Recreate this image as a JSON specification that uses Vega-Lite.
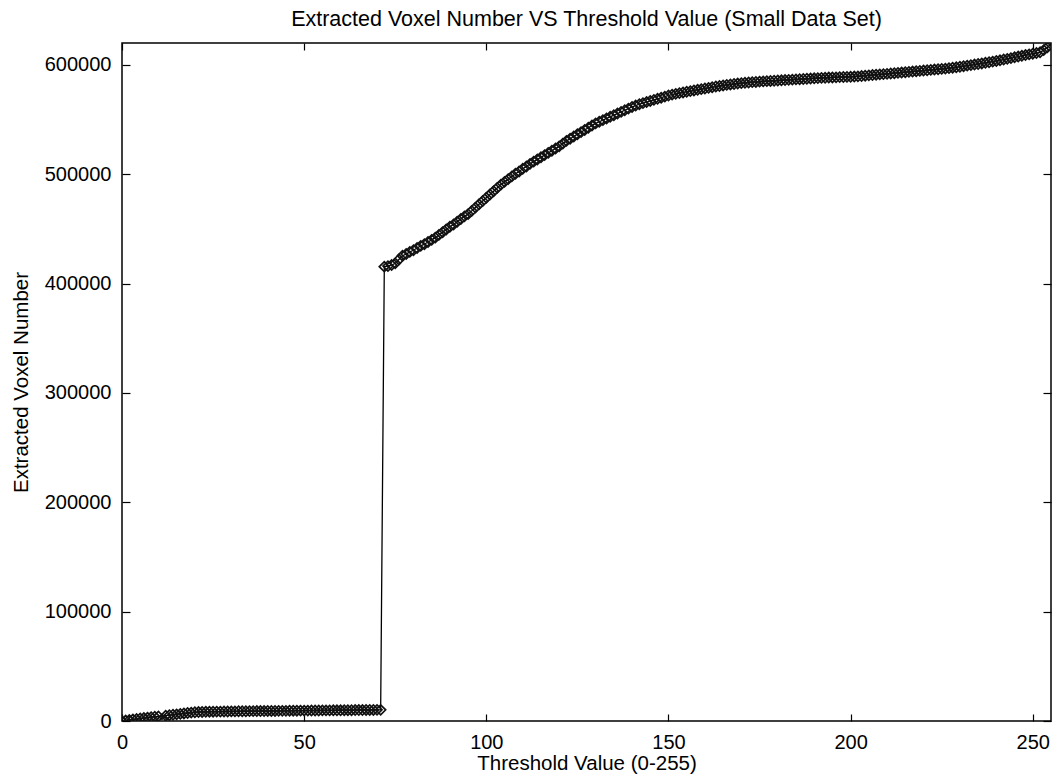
{
  "$schema": "https://vega.github.io/schema/vega-lite/v6.json",
  "width": 929,
  "height": 678,
  "autosize": "none",
  "padding": {"left": 122, "top": 43, "right": 5, "bottom": 61},
  "background": "white",
  "config": {
    "font": "Liberation Sans",
    "view": {"stroke": "black", "strokeWidth": 1.5},
    "axis": {
      "domain": false,
      "grid": false,
      "ticks": true,
      "tickColor": "black",
      "tickWidth": 1.2,
      "labelColor": "black",
      "labelFont": "Liberation Sans",
      "labelFontSize": 20,
      "labelFlush": false,
      "titleFont": "Liberation Sans",
      "titleFontSize": 20.5,
      "titleFontWeight": "normal",
      "titleColor": "black"
    }
  },
  "title": {
    "text": "Extracted Voxel Number VS Threshold Value (Small Data Set)",
    "font": "Liberation Sans",
    "fontSize": 21.5,
    "fontWeight": "normal",
    "color": "black",
    "anchor": "middle",
    "offset": 12
  },
  "data": {
    "values": [
      {"t": 0, "n": 0}, {"t": 1, "n": 400}, {"t": 2, "n": 900}, {"t": 3, "n": 1400}, {"t": 4, "n": 1800},
      {"t": 5, "n": 2300}, {"t": 6, "n": 2700}, {"t": 7, "n": 3100}, {"t": 8, "n": 3500}, {"t": 9, "n": 3900},
      {"t": 10, "n": 4200}, {"t": 11, "n": 1500}, {"t": 12, "n": 4900}, {"t": 13, "n": 5300}, {"t": 14, "n": 5700},
      {"t": 15, "n": 6100}, {"t": 16, "n": 6500}, {"t": 17, "n": 6900}, {"t": 18, "n": 7300}, {"t": 19, "n": 7700},
      {"t": 20, "n": 8000}, {"t": 21, "n": 8200}, {"t": 22, "n": 8300}, {"t": 23, "n": 8400}, {"t": 24, "n": 8500},
      {"t": 25, "n": 8500}, {"t": 26, "n": 8600}, {"t": 27, "n": 8600}, {"t": 28, "n": 8700}, {"t": 29, "n": 8700},
      {"t": 30, "n": 8800}, {"t": 31, "n": 8800}, {"t": 32, "n": 8900}, {"t": 33, "n": 8900}, {"t": 34, "n": 8900},
      {"t": 35, "n": 9000}, {"t": 36, "n": 9000}, {"t": 37, "n": 9100}, {"t": 38, "n": 9100}, {"t": 39, "n": 9100},
      {"t": 40, "n": 9200}, {"t": 41, "n": 9200}, {"t": 42, "n": 9200}, {"t": 43, "n": 9300}, {"t": 44, "n": 9300},
      {"t": 45, "n": 9300}, {"t": 46, "n": 9400}, {"t": 47, "n": 9400}, {"t": 48, "n": 9400}, {"t": 49, "n": 9500},
      {"t": 50, "n": 9500}, {"t": 51, "n": 9500}, {"t": 52, "n": 9600}, {"t": 53, "n": 9600}, {"t": 54, "n": 9600},
      {"t": 55, "n": 9700}, {"t": 56, "n": 9700}, {"t": 57, "n": 9700}, {"t": 58, "n": 9800}, {"t": 59, "n": 9800},
      {"t": 60, "n": 9800}, {"t": 61, "n": 9900}, {"t": 62, "n": 9900}, {"t": 63, "n": 9900}, {"t": 64, "n": 10000},
      {"t": 65, "n": 10000}, {"t": 66, "n": 10000}, {"t": 67, "n": 10100}, {"t": 68, "n": 10100}, {"t": 69, "n": 10100},
      {"t": 70, "n": 10200}, {"t": 71, "n": 10200},
      {"t": 72, "n": 415500}, {"t": 73, "n": 416000}, {"t": 74, "n": 417000},
      {"t": 75, "n": 418500}, {"t": 76, "n": 422000}, {"t": 77, "n": 425500}, {"t": 78, "n": 427000}, {"t": 79, "n": 429000},
      {"t": 80, "n": 430500}, {"t": 81, "n": 432500}, {"t": 82, "n": 434500}, {"t": 83, "n": 436000}, {"t": 84, "n": 438000},
      {"t": 85, "n": 440000}, {"t": 86, "n": 442000}, {"t": 87, "n": 444500}, {"t": 88, "n": 447000}, {"t": 89, "n": 449500},
      {"t": 90, "n": 452000}, {"t": 91, "n": 454000}, {"t": 92, "n": 456500}, {"t": 93, "n": 459000}, {"t": 94, "n": 461500},
      {"t": 95, "n": 463500}, {"t": 96, "n": 466500}, {"t": 97, "n": 469500}, {"t": 98, "n": 472500}, {"t": 99, "n": 475500},
      {"t": 100, "n": 478500}, {"t": 101, "n": 481500}, {"t": 102, "n": 484500}, {"t": 103, "n": 487500}, {"t": 104, "n": 490500},
      {"t": 105, "n": 493000}, {"t": 106, "n": 495500}, {"t": 107, "n": 498000}, {"t": 108, "n": 500500}, {"t": 109, "n": 502500},
      {"t": 110, "n": 505000}, {"t": 111, "n": 507000}, {"t": 112, "n": 509500}, {"t": 113, "n": 511500}, {"t": 114, "n": 513500},
      {"t": 115, "n": 515500}, {"t": 116, "n": 517500}, {"t": 117, "n": 519500}, {"t": 118, "n": 521500}, {"t": 119, "n": 523500},
      {"t": 120, "n": 525500}, {"t": 121, "n": 528000}, {"t": 122, "n": 530500}, {"t": 123, "n": 532500}, {"t": 124, "n": 534500},
      {"t": 125, "n": 536500}, {"t": 126, "n": 538500}, {"t": 127, "n": 540500}, {"t": 128, "n": 542500}, {"t": 129, "n": 544500},
      {"t": 130, "n": 546500}, {"t": 131, "n": 548000}, {"t": 132, "n": 549500}, {"t": 133, "n": 551000}, {"t": 134, "n": 552500},
      {"t": 135, "n": 554000}, {"t": 136, "n": 555500}, {"t": 137, "n": 557000}, {"t": 138, "n": 558500}, {"t": 139, "n": 560000},
      {"t": 140, "n": 561500}, {"t": 141, "n": 562800}, {"t": 142, "n": 564000}, {"t": 143, "n": 565000}, {"t": 144, "n": 566000},
      {"t": 145, "n": 567000}, {"t": 146, "n": 568000}, {"t": 147, "n": 569000}, {"t": 148, "n": 570000}, {"t": 149, "n": 571000},
      {"t": 150, "n": 572000}, {"t": 151, "n": 572800}, {"t": 152, "n": 573500}, {"t": 153, "n": 574200}, {"t": 154, "n": 574800},
      {"t": 155, "n": 575400}, {"t": 156, "n": 576000}, {"t": 157, "n": 576600}, {"t": 158, "n": 577200}, {"t": 159, "n": 577800},
      {"t": 160, "n": 578400}, {"t": 161, "n": 579000}, {"t": 162, "n": 579600}, {"t": 163, "n": 580200}, {"t": 164, "n": 580700},
      {"t": 165, "n": 581200}, {"t": 166, "n": 581700}, {"t": 167, "n": 582100}, {"t": 168, "n": 582500}, {"t": 169, "n": 582900},
      {"t": 170, "n": 583300}, {"t": 171, "n": 583600}, {"t": 172, "n": 583900}, {"t": 173, "n": 584200}, {"t": 174, "n": 584400},
      {"t": 175, "n": 584700}, {"t": 176, "n": 584900}, {"t": 177, "n": 585100}, {"t": 178, "n": 585300}, {"t": 179, "n": 585500},
      {"t": 180, "n": 585700}, {"t": 181, "n": 585900}, {"t": 182, "n": 586100}, {"t": 183, "n": 586300}, {"t": 184, "n": 586500},
      {"t": 185, "n": 586700}, {"t": 186, "n": 586900}, {"t": 187, "n": 587100}, {"t": 188, "n": 587300}, {"t": 189, "n": 587500},
      {"t": 190, "n": 587700}, {"t": 191, "n": 587900}, {"t": 192, "n": 588100}, {"t": 193, "n": 588200}, {"t": 194, "n": 588400},
      {"t": 195, "n": 588500}, {"t": 196, "n": 588600}, {"t": 197, "n": 588800}, {"t": 198, "n": 588900}, {"t": 199, "n": 589000},
      {"t": 200, "n": 589100}, {"t": 201, "n": 589300}, {"t": 202, "n": 589500}, {"t": 203, "n": 589800}, {"t": 204, "n": 590100},
      {"t": 205, "n": 590400}, {"t": 206, "n": 590700}, {"t": 207, "n": 591000}, {"t": 208, "n": 591300}, {"t": 209, "n": 591500},
      {"t": 210, "n": 591800}, {"t": 211, "n": 592100}, {"t": 212, "n": 592400}, {"t": 213, "n": 592700}, {"t": 214, "n": 593000},
      {"t": 215, "n": 593300}, {"t": 216, "n": 593600}, {"t": 217, "n": 593900}, {"t": 218, "n": 594200}, {"t": 219, "n": 594500},
      {"t": 220, "n": 594800}, {"t": 221, "n": 595100}, {"t": 222, "n": 595400}, {"t": 223, "n": 595700}, {"t": 224, "n": 596000},
      {"t": 225, "n": 596300}, {"t": 226, "n": 596600}, {"t": 227, "n": 597000}, {"t": 228, "n": 597400}, {"t": 229, "n": 597800},
      {"t": 230, "n": 598300}, {"t": 231, "n": 598800}, {"t": 232, "n": 599300}, {"t": 233, "n": 599800}, {"t": 234, "n": 600300},
      {"t": 235, "n": 600800}, {"t": 236, "n": 601300}, {"t": 237, "n": 601900}, {"t": 238, "n": 602400}, {"t": 239, "n": 603000},
      {"t": 240, "n": 603600}, {"t": 241, "n": 604200}, {"t": 242, "n": 604900}, {"t": 243, "n": 605500}, {"t": 244, "n": 606200},
      {"t": 245, "n": 606900}, {"t": 246, "n": 607600}, {"t": 247, "n": 608300}, {"t": 248, "n": 609000}, {"t": 249, "n": 609600},
      {"t": 250, "n": 610200}, {"t": 251, "n": 610800}, {"t": 252, "n": 611500}, {"t": 253, "n": 613500}, {"t": 254, "n": 616000},
      {"t": 255, "n": 619000}
    ]
  },
  "layer": [
    {
      "mark": {"type": "line", "color": "black", "strokeWidth": 1.3, "clip": true},
      "encoding": {
        "x": {
          "field": "t", "type": "quantitative",
          "scale": {"domain": [0, 255], "nice": false, "zero": false},
          "axis": {"orient": "bottom", "values": [0, 50, 100, 150, 200, 250], "tickSize": -7, "labelPadding": 18, "title": "Threshold Value (0-255)", "titlePadding": 1}
        },
        "y": {
          "field": "n", "type": "quantitative",
          "scale": {"domain": [0, 620000], "nice": false},
          "axis": {"orient": "left", "values": [0, 100000, 200000, 300000, 400000, 500000, 600000], "format": "d", "tickSize": -8, "labelPadding": 19, "title": "Extracted Voxel Number", "titlePadding": 13}
        }
      }
    },
    {
      "mark": {"type": "point", "shape": "diamond", "filled": false, "stroke": "#111111", "strokeWidth": 1.7, "size": 100, "opacity": 1, "clip": true},
      "encoding": {
        "x": {
          "field": "t", "type": "quantitative",
          "axis": {"orient": "top", "values": [0, 50, 100, 150, 200, 250], "tickSize": -7, "labels": false, "title": null}
        },
        "y": {
          "field": "n", "type": "quantitative",
          "axis": {"orient": "right", "values": [0, 100000, 200000, 300000, 400000, 500000, 600000], "tickSize": -8, "labels": false, "title": null}
        }
      }
    }
  ],
  "resolve": {"axis": {"x": "independent", "y": "independent"}}
}
